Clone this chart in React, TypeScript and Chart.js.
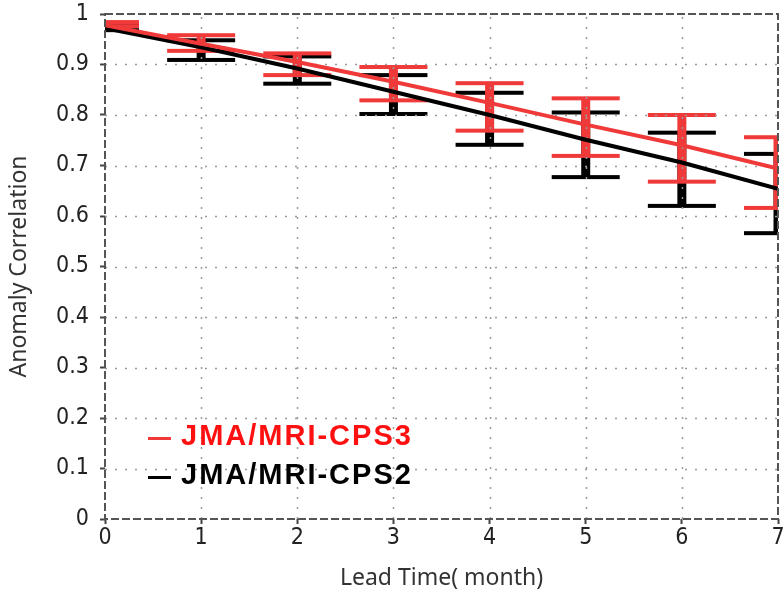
import React, { useEffect, useRef } from "react";
import { Chart, registerables } from "chart.js";

Chart.register(...registerables);

const leadMonths = [0, 1, 2, 3, 4, 5, 6, 7];
const cps3Mean = [0.978, 0.941, 0.905, 0.866, 0.824, 0.781, 0.74, 0.694];
const cps2Mean = [0.972, 0.934, 0.892, 0.846, 0.8, 0.751, 0.706, 0.654];
const cps3Upper = [0.984, 0.958, 0.922, 0.895, 0.863, 0.833, 0.8, 0.756];
const cps3Lower = [0.976, 0.927, 0.879, 0.829, 0.769, 0.719, 0.668, 0.616];
const cps2Upper = [0.98, 0.948, 0.916, 0.879, 0.844, 0.805, 0.765, 0.723];
const cps2Lower = [0.968, 0.909, 0.862, 0.802, 0.741, 0.677, 0.62, 0.566];
const seriesNames = ["JMA/MRI-CPS3", "JMA/MRI-CPS2"];

const RED = "#f03a3a";
const BLACK = "#000000";
const LEGEND_RED = "#ff1010";

const tickFont = "'DejaVu Sans Condensed', 'Liberation Sans Narrow', 'DejaVu Sans', sans-serif";
const titleFont = "'Noto Sans', 'Liberation Sans', sans-serif";

const decorPlugin = {
  id: "decor",
  beforeDatasetsDraw(chart: any) {
    const { ctx, chartArea: a, scales } = chart;
    const x = scales.x;
    const y = scales.y;
    ctx.save();
    ctx.beginPath();
    ctx.rect(a.left, a.top, a.right - a.left, a.bottom - a.top);
    ctx.clip();
    const drawBars = (lo: number[], hi: number[], color: string) => {
      ctx.fillStyle = color;
      leadMonths.forEach((m, i) => {
        const px = x.getPixelForValue(m);
        const yt = y.getPixelForValue(hi[i]);
        const yb = y.getPixelForValue(lo[i]);
        ctx.fillRect(px - 4.5, yt, 9, yb - yt);
        ctx.fillRect(px - 34, yt - 2, 68, 4);
        ctx.fillRect(px - 34, yb - 2, 68, 4);
      });
    };
    drawBars(cps2Lower, cps2Upper, BLACK);
    drawBars(cps3Lower, cps3Upper, RED);
    ctx.strokeStyle = "#9a9a9a";
    ctx.lineWidth = 1.5;
    ctx.setLineDash([2, 8]);
    x.ticks.forEach((t: any) => {
      if (t.value <= x.min || t.value >= x.max) return;
      const px = Math.round(x.getPixelForValue(t.value)) + 0.5;
      ctx.beginPath();
      ctx.moveTo(px, a.bottom);
      ctx.lineTo(px, a.top);
      ctx.stroke();
    });
    y.ticks.forEach((t: any) => {
      if (t.value <= y.min || t.value >= y.max) return;
      const py = Math.round(y.getPixelForValue(t.value)) + 0.5;
      ctx.beginPath();
      ctx.moveTo(a.left, py);
      ctx.lineTo(a.right, py);
      ctx.stroke();
    });
    ctx.restore();
  },
  afterDatasetsDraw(chart: any) {
    const { ctx, chartArea: a } = chart;
    ctx.save();
    ctx.strokeStyle = "#555555";
    ctx.lineWidth = 2;
    ctx.setLineDash([8, 3]);
    ctx.strokeRect(a.left, a.top, a.right - a.left, a.bottom - a.top);
    ctx.restore();
  },
  afterDraw(chart: any) {
    const { ctx, chartArea: a } = chart;
    ctx.save();
    ctx.font = "bold 29px 'Liberation Sans', Arial, sans-serif";
    ctx.textBaseline = "alphabetic";
    ctx.textAlign = "left";
    try {
      (ctx as any).letterSpacing = "2px";
    } catch (e) {}
    const rows = [
      { name: seriesNames[0], color: RED, text: LEGEND_RED, base: a.bottom - 74 },
      { name: seriesNames[1], color: BLACK, text: BLACK, base: a.bottom - 35 },
    ];
    rows.forEach((r) => {
      ctx.fillStyle = r.color;
      ctx.fillRect(a.left + 43, r.base - 8, 23, 3);
      ctx.fillStyle = r.text;
      ctx.fillText(r.name, a.left + 76, r.base);
    });
    ctx.restore();
  },
};

export default function App() {
  const ref = useRef<HTMLCanvasElement | null>(null);
  useEffect(() => {
    if (!ref.current) return;
    const chart = new Chart(ref.current, {
      type: "line",
      data: {
        datasets: [
          {
            label: seriesNames[0],
            data: leadMonths.map((m, i) => ({ x: m, y: cps3Mean[i] })),
            borderColor: RED,
            borderWidth: 4,
            pointRadius: 0,
            fill: false,
          },
          {
            label: seriesNames[1],
            data: leadMonths.map((m, i) => ({ x: m, y: cps2Mean[i] })),
            borderColor: BLACK,
            borderWidth: 4,
            pointRadius: 0,
            fill: false,
          },
        ],
      },
      options: {
        animation: false,
        responsive: false,
        layout: { padding: { left: 0, right: 6, top: 14, bottom: 0 } },
        plugins: { legend: { display: false }, tooltip: { enabled: false } },
        scales: {
          x: {
            type: "linear",
            min: 0,
            max: 7,
            ticks: {
              stepSize: 1,
              color: "#222",
              padding: 0,
              font: { family: tickFont, size: 23 },
            },
            grid: {
              display: true,
              drawOnChartArea: false,
              drawTicks: true,
              tickLength: 5,
              tickColor: "#444",
              tickWidth: 2,
              color: "rgba(0,0,0,0)",
            },
            border: { display: false },
            title: {
              display: true,
              text: "Lead Time( month)",
              color: "#333",
              font: { family: titleFont, size: 23 },
              padding: { top: 0, bottom: 0 },
            },
            afterFit(scale: any) {
              scale.height = 73;
              scale.paddingLeft = 0;
              scale.paddingRight = 0;
            },
          },
          y: {
            type: "linear",
            min: 0,
            max: 1,
            ticks: {
              stepSize: 0.1,
              color: "#222",
              padding: 11,
              font: { family: tickFont, size: 23 },
              callback: (v: any) => String(Number(Number(v).toFixed(1))),
            },
            grid: {
              display: true,
              drawOnChartArea: false,
              drawTicks: true,
              tickLength: 5,
              tickColor: "#444",
              tickWidth: 2,
              color: "rgba(0,0,0,0)",
            },
            border: { display: false },
            title: {
              display: true,
              text: "Anomaly Correlation",
              color: "#333",
              font: { family: titleFont, size: 23 },
              padding: { top: 6, bottom: 0 },
            },
            afterFit(scale: any) {
              scale.width = 105;
              scale.paddingTop = 0;
              scale.paddingBottom = 0;
            },
          },
        },
      },
      plugins: [decorPlugin],
    });
    return () => chart.destroy();
  }, []);
  return (
    <div style={{ position: "absolute", left: 0, top: 0, width: 784, height: 592, background: "#fff" }}>
      <canvas ref={ref} width={784} height={592} style={{ display: "block" }} />
    </div>
  );
}
